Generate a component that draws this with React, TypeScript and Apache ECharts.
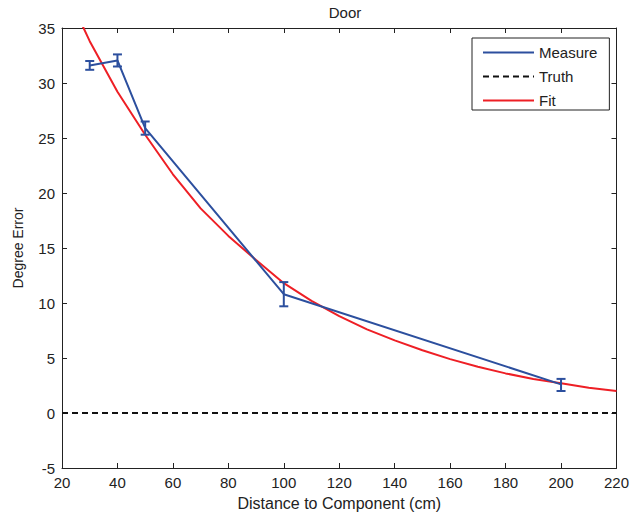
import React, { useEffect, useRef } from "react";
import * as echarts from "echarts";

const titleText = "Door";
const xName = "Distance to Component (cm)";
const yName = "Degree Error";

// Measured values
const measureX = [30, 40, 50, 100, 200];
const measureY = [31.6, 32.05, 25.9, 10.8, 2.6];
const measureLow = [31.2, 31.5, 25.3, 9.7, 2.0];
const measureHigh = [32.0, 32.6, 26.5, 11.9, 3.1];

// Fit curve
const fitX = [20, 30, 40, 50, 60, 70, 80, 90, 100, 110, 120, 130, 140, 150, 160, 170, 180, 190, 200, 210, 220];
const fitY = [39.2, 33.8, 29.2, 25.3, 21.7, 18.6, 16.1, 13.9, 11.8, 10.2, 8.8, 7.6, 6.6, 5.7, 4.9, 4.2, 3.6, 3.1, 2.7, 2.3, 2.0];

// Truth line
const truthX = [20, 220];
const truthY = [0, 0];

const xMin = 20, xMax = 220, xStep = 20;
const yMin = -5, yMax = 35, yStep = 5;

const BLUE = "#2c4f9e";
const RED = "#ee1f25";
const FONT = "Liberation Sans";

export default function App() {
  const ref = useRef<HTMLDivElement>(null);
  useEffect(() => {
    if (!ref.current) return;
    const chart = echarts.init(ref.current, undefined, { renderer: "svg" });
    const axisCommon = {
      axisLine: { show: true, onZero: false, lineStyle: { color: "#222", width: 1 } },
      axisTick: { show: true, inside: true, length: 5, lineStyle: { color: "#222" } },
      splitLine: { show: false },
    };
    chart.setOption({
      animation: false,
      backgroundColor: "#fff",
      title: {
        text: titleText,
        left: 340,
        top: 0,
        textAlign: "center",
        textStyle: { fontFamily: FONT, fontSize: 15, fontWeight: "normal", color: "#222" },
      },
      legend: {
        orient: "vertical",
        left: 472,
        top: 38,
        data: ["Measure", "Truth", "Fit"],
        itemWidth: 51,
        itemHeight: 14,
        itemGap: 9,
        padding: [7, 12, 2, 10],
        borderColor: "#222",
        borderWidth: 1,
        backgroundColor: "#fff",
        itemStyle: { opacity: 0 },
        textStyle: { fontFamily: FONT, fontSize: 15, color: "#222" },
      },
      grid: { left: 62, right: 15, top: 28, bottom: 49, containLabel: false },
      xAxis: [
        {
          type: "value",
          min: xMin,
          max: xMax,
          interval: xStep,
          name: xName,
          nameLocation: "middle",
          nameGap: 27,
          nameTextStyle: { fontFamily: FONT, fontSize: 16, color: "#222" },
          axisLabel: { fontFamily: FONT, fontSize: 15, color: "#222", margin: 7 },
          ...axisCommon,
        },
        {
          type: "value",
          position: "top",
          min: xMin,
          max: xMax,
          interval: xStep,
          axisLabel: { show: false },
          ...axisCommon,
        },
      ],
      yAxis: [
        {
          type: "value",
          min: yMin,
          max: yMax,
          interval: yStep,
          name: yName,
          nameLocation: "middle",
          nameGap: 37,
          nameTextStyle: { fontFamily: FONT, fontSize: 14, color: "#222" },
          axisLabel: { fontFamily: FONT, fontSize: 15, color: "#222", margin: 7 },
          ...axisCommon,
        },
        {
          type: "value",
          position: "right",
          min: yMin,
          max: yMax,
          interval: yStep,
          axisLabel: { show: false },
          ...axisCommon,
        },
      ],
      series: [
        {
          name: "Measure",
          type: "line",
          data: measureX.map((x, i) => [x, measureY[i]]),
          symbol: "none",
          lineStyle: { color: BLUE, width: 2 },
          itemStyle: { color: BLUE },
          z: 3,
        },
        {
          name: "Measure",
          type: "custom",
          data: measureX.map((x, i) => [x, measureLow[i], measureHigh[i]]),
          encode: { x: 0, y: [1, 2] },
          renderItem: (params: any, api: any) => {
            const x = api.value(0);
            const lo = api.coord([x, api.value(1)]);
            const hi = api.coord([x, api.value(2)]);
            const w = 4.5;
            const style = { stroke: BLUE, lineWidth: 2, fill: "none" };
            return {
              type: "group",
              children: [
                { type: "line", shape: { x1: lo[0], y1: lo[1], x2: hi[0], y2: hi[1] }, style },
                { type: "line", shape: { x1: lo[0] - w, y1: lo[1], x2: lo[0] + w, y2: lo[1] }, style },
                { type: "line", shape: { x1: hi[0] - w, y1: hi[1], x2: hi[0] + w, y2: hi[1] }, style },
              ],
            };
          },
          z: 3,
        },
        {
          name: "Truth",
          type: "line",
          data: truthX.map((x, i) => [x, truthY[i]]),
          symbol: "none",
          lineStyle: { color: "#111", width: 2, type: [6, 4] },
          itemStyle: { color: "#111" },
          z: 2,
        },
        {
          name: "Fit",
          type: "line",
          data: fitX.map((x, i) => [x, fitY[i]]),
          symbol: "none",
          clip: true,
          lineStyle: { color: RED, width: 2 },
          itemStyle: { color: RED },
          z: 2,
        },
      ],
    });
    return () => chart.dispose();
  }, []);
  return <div ref={ref} style={{ position: "absolute", left: 0, top: 0, width: 632, height: 517 }} />;
}
